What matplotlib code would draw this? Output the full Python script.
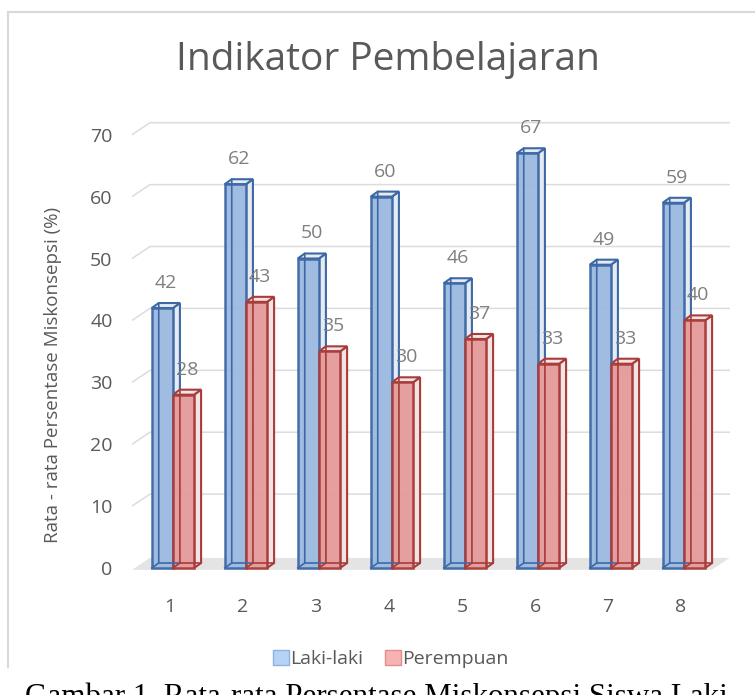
import matplotlib.pyplot as plt
from matplotlib.patches import Polygon, Patch
from matplotlib.lines import Line2D

plt.rcParams['font.family'] = ['Open Sans', 'DejaVu Sans']

# data
indikator = [1, 2, 3, 4, 5, 6, 7, 8]
laki_laki = [42, 62, 50, 60, 46, 67, 49, 59]
perempuan = [28, 43, 35, 30, 37, 33, 33, 40]
yticks = [0, 10, 20, 30, 40, 50, 60, 70]

W, H = 755, 695
fig = plt.figure(figsize=(W / 100, H / 100), dpi=100)

# plot area in pixels
L, R, T, B = 132, 730, 100, 580
ax = fig.add_axes([L / W, 1 - B / H, (R - L) / W, (B - T) / H])
ppu_x = 73.0          # pixels per category
ppu_y = 6.19          # pixels per value unit
ax.set_xlim(1 - (170 - L) / ppu_x, 1 + (R - 170) / ppu_x)
ax.set_ylim(-(B - 568) / ppu_y, (568 - T) / ppu_y)
for s in ax.spines.values():
    s.set_visible(False)

# depth offsets (data units)
wall_dx, wall_dy = 18 / ppu_x, 12 / ppu_y
bar_dx, bar_dy = 7 / ppu_x, 5 / ppu_y
x_front0, x_front1 = ax.get_xlim()[0], 8.42
grid_c = '#dcdcdc'

# floor
fy = -0.3
ax.add_patch(Polygon([(x_front0, fy), (x_front1, fy),
                      (x_front1 + wall_dx, fy + wall_dy), (x_front0 + wall_dx, fy + wall_dy)],
                     closed=True, facecolor='#e4e4e4', edgecolor='none', zorder=1))

# gridlines on side wall and back wall
for v in yticks[1:]:
    ax.plot([x_front0, x_front0 + wall_dx, x_front1 + wall_dx],
            [v, v + wall_dy, v + wall_dy], color=grid_c, lw=1.1, zorder=1)


def bar3d(x0, w, v, edge, side):
    x1 = x0 + w
    # side and top faces
    ax.add_patch(Polygon([(x1, 0), (x1 + bar_dx, bar_dy), (x1 + bar_dx, v + bar_dy), (x1, v)],
                         closed=True, facecolor=side, edgecolor=edge, lw=1.5, zorder=3))
    ax.add_patch(Polygon([(x0, v), (x0 + bar_dx, v + bar_dy), (x1 + bar_dx, v + bar_dy), (x1, v)],
                         closed=True, facecolor=side, edgecolor=edge, lw=1.5, zorder=3))
    # hidden edges showing through
    ax.plot([x0, x0 + bar_dx, x0 + bar_dx], [0, bar_dy, v + bar_dy], color=edge, lw=1.2, zorder=4.5)
    ax.plot([x0 + bar_dx, x1 + bar_dx], [bar_dy, bar_dy], color=edge, lw=1.2, zorder=4.5)


w = 0.29
xb = [i - 0.25 for i in indikator]
xr = [i + 0.04 for i in indikator]
blue_face, blue_edge, blue_side = '#9bb9e0', '#3d68a6', '#e6eaf1'
red_face, red_edge, red_side = '#e59a9a', '#a83c3a', '#f2e4e4'

for x0, v in zip(xb, laki_laki):
    bar3d(x0, w, v, blue_edge, blue_side)
ax.bar(xb, laki_laki, width=w, align='edge', color=blue_face, edgecolor=blue_edge,
       linewidth=1.8, alpha=0.95, zorder=4)
for x0, v in zip(xr, perempuan):
    bar3d(x0, w, v, red_edge, red_side)
ax.bar(xr, perempuan, width=w, align='edge', color=red_face, edgecolor=red_edge,
       linewidth=1.8, alpha=0.95, zorder=4)

# data labels
lab_c = '#7f7f7f'
for x0, v in zip(xb, laki_laki):
    ax.annotate(str(v), (x0 + (w + bar_dx) / 2, v), xytext=(0, 18), textcoords='offset points',
                ha='center', va='center', fontsize=14, color=lab_c, zorder=6)
for x0, v in zip(xr, perempuan):
    ax.annotate(str(v), (x0 + (w + bar_dx) / 2, v), xytext=(0, 18), textcoords='offset points',
                ha='center', va='center', fontsize=14, color=lab_c, zorder=6)

ax.set_xticks(indikator)
ax.set_xticklabels([str(i) for i in indikator])
ax.set_yticks(yticks)
ax.set_yticklabels([str(t) for t in yticks])
ax.tick_params(length=0, labelsize=14, labelcolor='#595959')
ax.tick_params(axis='y', pad=14)
ax.tick_params(axis='x', pad=13)
ax.set_ylabel('Rata - rata Persentase Miskonsepsi (%)', fontsize=13.5, color='#595959')
ax.yaxis.set_label_coords((62 - L) / (R - L), (B - 375) / (B - T))

# title
fig.text(388 / W, 1 - 60 / H, 'Indikator Pembelajaran', ha='center', va='center',
         fontsize=28, color='#595959')

# legend
handles = [Patch(facecolor='#b4d3f7', edgecolor='#8fb2de', label='Laki-laki'),
           Patch(facecolor='#f7b3b1', edgecolor='#e0908e', label='Perempuan')]
fig.legend(handles=handles, loc='center', bbox_to_anchor=(391 / W, 1 - 659 / H), ncol=2,
           frameon=False, fontsize=14, labelcolor='#595959', handlelength=0.8,
           handleheight=0.8, handletextpad=0.1, columnspacing=1.1)

# chart frame
fig.add_artist(Line2D([8 / W, 1], [1 - 12 / H, 1 - 12 / H], color='#d9d9d9', lw=1.5))
fig.add_artist(Line2D([8 / W, 8 / W], [1 - 12 / H, 1 - 667 / H], color='#d9d9d9', lw=1.5))

# caption (cut off at the bottom of the page, as in the source)
fig.text(25 / W, 1 - 682 / H, 'Gambar 1. Rata-rata Persentase Miskonsepsi Siswa Laki',
         ha='left', va='top', fontsize=22.3, family='Liberation Serif', color='black')

fig.savefig('out.png', dpi=100)
